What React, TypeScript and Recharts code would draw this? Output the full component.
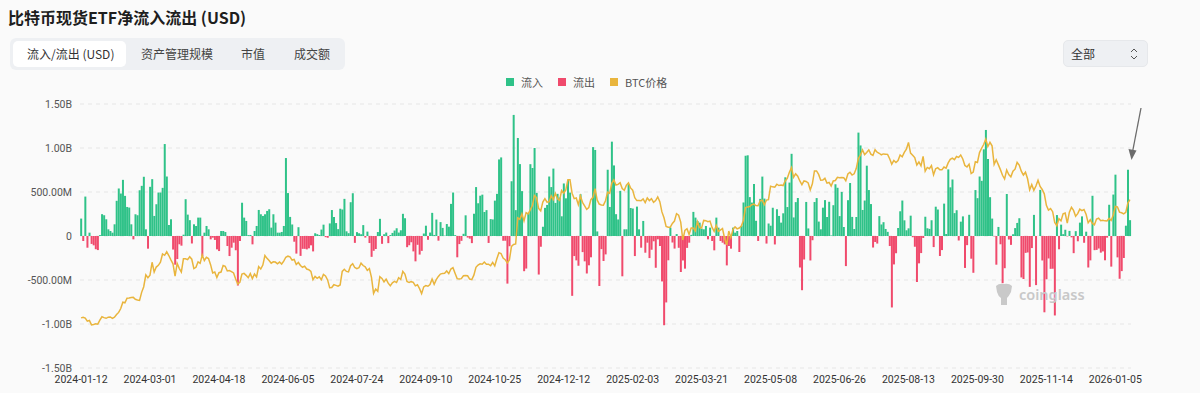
import React from "react";
import { Bar, CartesianGrid, ComposedChart, Line, XAxis, YAxis } from "recharts";

// US market holidays between the first and last day
const HOLIDAYS = [
  "2024-01-15", "2024-02-19", "2024-03-29", "2024-05-27", "2024-06-19", "2024-07-04",
  "2024-09-02", "2024-11-28", "2024-12-25", "2025-01-01", "2025-01-09", "2025-01-20",
  "2025-02-17", "2025-04-18", "2025-05-26", "2025-06-19", "2025-07-04", "2025-09-01",
  "2025-11-27", "2025-12-25", "2026-01-01",
];
const FIRST_DAY = "2024-01-12";
const LAST_DAY = "2026-01-14";

// daily net flow, USD millions
const flows = [
  198, -57, 448, -133, 38, -90, -106, -150, -160, 10,
  248, 236, 190, 76, 57, 38, 133, 400, 540, 483,
  638, 456, 330, 323, 133, -38, 247, 236, 520, 570,
  673, 76, -144, 559, 646, 228, 361, 494, 494, 547,
  1045, 676, 125, 190, -154, -326, -262, -94, -110, 15,
  418, 243, 180, -85, 133, 114, 209, 209, -228, 38,
  114, 76, -38, -19, -45, -152, -171, 57, 57, 45,
  -114, -228, -133, -76, -162, -563, -57, 378, 209, 171,
  10, 12, -95, 57, 114, 296, 247, 228, 247, 285,
  304, 95, 247, 152, 38, 38, 46, 114, 886, 488,
  217, 131, -65, -200, 100, -226, -146, -146, -152, -140,
  -106, -175, 31, 21, 11, 73, 129, -13, -20, 143,
  295, 216, 147, 78, 310, 301, 422, 53, 32, 384,
  486, -78, 44, 31, 20, 124, -18, 50, -80, -237,
  -168, -148, 45, 195, -89, 20, 39, -81, 11, 35,
  62, 88, 39, 65, 252, 202, -127, -105, -71, -175,
  -288, -100, -211, -169, 28, 117, -43, 39, 263, 12,
  187, -53, 158, 92, 4, 136, 106, 365, 494, 10,
  -242, -92, -55, 25, 235, -18, -30, -81, 253, 556,
  372, 458, 470, 273, 294, -79, 192, 188, 402, 479,
  870, 893, -54, -54, -541, -116, 621, 1376, 294, 1114,
  817, 510, -400, -370, 255, 816, 773, 1000, 490, -438,
  -122, 105, 320, 353, 676, 556, 766, 376, 479, 438,
  224, 597, 428, 637, 493, -680, -228, -277, -338, 475,
  -183, -288, -426, -333, -242, 1010, 978, 52, -568, -149,
  -284, -209, 753, 330, 1072, 802, 248, 188, 513, -458,
  76, 76, 588, 318, 312, -228, 334, 76, -133, 171,
  -190, -76, -251, -156, -60, -361, -38, -114, -516, -1014,
  -755, -276, 95, -74, -143, 22, -134, -409, -278, -371,
  -135, -76, 13, 274, 209, 171, 152, 84, 76, 114,
  -38, 95, -57, -163, 209, 95, -57, -76, -95, -334,
  -114, -144, 95, 38, 57, -182, 114, 381, 912, 917,
  442, 380, 591, 173, -56, 422, 675, 425, -86, 142,
  117, 321, -96, 304, 228, 152, 258, 667, 329, 607,
  934, 211, 385, 432, -358, -616, -267, 387, 86, -278,
  -48, 386, 431, 164, 76, 322, 408, 216, 389, 6,
  350, 588, 548, 226, 501, 102, -342, 407, 602, 217,
  80, 216, 1175, 1029, 296, 403, 799, 522, 363, -131,
  -68, -86, 226, 131, 157, 80, 47, -114, -812, -323,
  -196, 91, 281, 403, 178, 65, 87, 231, -14, -122,
  -523, -311, -194, -23, 219, 88, 81, 179, -126, 333,
  301, -227, -160, 368, 23, 757, 553, 642, 260, 293,
  -51, 163, 223, -363, -104, 241, -258, -418, 522, 430,
  676, 627, 985, 1205, 875, 441, 198, -4, -326, 103,
  -94, -536, -366, 477, -40, -101, 20, 90, 149, 202,
  -471, -488, -192, -187, -578, -137, 240, -558, 1, 524,
  -278, -867, -492, -255, -373, -372, -903, 238, -151, 129,
  21, 71, -4, 58, -15, -195, 55, -60, 152, 223,
  -77, 49, -358, -277, 457, -161, -158, -142, -189, -175,
  -276, -19, 355, -348, 471, 697, -243, -486, -399, -250,
  117, 753, 180,
];

// BTC price, thousand USD
const btcPrice = [
  42.8, 43.1, 42.7, 41.3, 41.6, 39.6, 39.8, 40.1, 39.9, 41.8,
  43.3, 42.9, 42.6, 43.1, 43.2, 42.6, 43.1, 44.3, 45.3, 47.1,
  50.0, 49.7, 51.8, 51.9, 52.1, 52.2, 51.3, 51.0, 50.8, 54.5,
  57.1, 62.5, 61.2, 62.4, 68.3, 63.8, 66.1, 66.9, 68.3, 72.1,
  71.5, 73.1, 71.4, 69.4, 67.6, 62.0, 67.8, 65.5, 63.8, 69.9,
  69.9, 69.5, 70.8, 69.7, 65.4, 66.0, 68.5, 67.8, 71.6, 69.1,
  70.6, 70.0, 67.2, 63.4, 63.8, 61.3, 63.5, 63.8, 66.8, 66.4,
  64.3, 64.5, 64.0, 63.4, 60.6, 58.3, 59.1, 62.9, 63.2, 62.3,
  61.2, 63.1, 60.8, 62.9, 61.6, 66.3, 65.2, 67.0, 71.4, 70.1,
  69.1, 67.9, 68.5, 68.4, 67.6, 68.4, 67.5, 68.8, 70.6, 71.1,
  70.8, 69.3, 69.6, 67.3, 68.2, 66.8, 66.0, 66.5, 65.2, 64.9,
  64.1, 60.3, 61.8, 60.9, 61.6, 60.3, 62.7, 62.0, 60.2, 56.6,
  56.7, 58.0, 57.7, 57.3, 57.9, 64.1, 65.1, 64.1, 63.9, 66.7,
  67.6, 65.9, 65.4, 65.8, 67.9, 66.8, 66.2, 64.6, 65.4, 61.4,
  54.0, 56.0, 55.0, 61.7, 60.9, 59.3, 60.6, 58.7, 57.5, 58.9,
  59.5, 59.0, 61.2, 60.4, 64.1, 62.9, 59.5, 59.0, 59.4, 59.1,
  57.5, 58.0, 56.2, 53.9, 57.0, 57.6, 57.3, 58.1, 60.6, 58.2,
  60.3, 61.8, 62.9, 63.2, 63.3, 64.3, 63.1, 65.2, 65.8, 63.3,
  60.8, 60.6, 60.8, 62.1, 62.2, 62.1, 60.6, 60.3, 62.4, 66.0,
  67.0, 67.6, 67.4, 68.4, 67.4, 67.4, 66.7, 68.2, 66.6, 69.9,
  72.7, 72.3, 70.2, 69.5, 68.0, 69.4, 75.6, 76.5, 76.7, 88.7,
  88.0, 90.5, 87.3, 91.1, 90.5, 92.3, 94.3, 98.9, 98.0, 93.0,
  91.9, 95.9, 97.5, 95.9, 96.0, 98.8, 97.0, 99.9, 97.4, 96.7,
  101.2, 100.0, 101.5, 106.1, 106.1, 100.0, 97.5, 97.8, 94.7, 98.7,
  95.8, 94.2, 92.6, 93.4, 97.0, 98.1, 102.1, 96.9, 95.0, 94.6,
  94.5, 96.5, 100.5, 99.9, 104.5, 106.1, 103.7, 104.0, 104.8, 102.1,
  101.3, 103.7, 104.7, 102.4, 101.4, 97.9, 96.6, 96.6, 96.5, 97.4,
  95.7, 97.8, 96.6, 97.5, 95.8, 96.6, 98.3, 96.1, 91.4, 88.7,
  84.7, 84.4, 84.4, 86.1, 87.2, 90.6, 89.9, 86.7, 78.5, 82.9,
  83.7, 81.1, 84.0, 84.0, 82.7, 86.9, 84.2, 84.1, 87.5, 87.4,
  86.9, 87.2, 84.3, 82.5, 85.2, 82.5, 83.1, 83.8, 79.2, 76.3,
  82.6, 79.6, 83.4, 84.5, 83.6, 84.0, 84.9, 87.5, 93.4, 93.7,
  93.9, 94.7, 95.0, 94.3, 94.2, 96.5, 96.8, 94.7, 96.8, 97.0,
  103.2, 102.9, 102.7, 104.1, 103.5, 103.7, 103.5, 105.6, 106.8, 109.6,
  111.7, 107.3, 108.9, 107.8, 105.6, 103.9, 105.6, 105.4, 104.7, 101.5,
  104.3, 110.2, 110.2, 108.6, 105.9, 106.0, 106.8, 104.6, 104.9, 103.3,
  105.6, 105.8, 107.3, 107.1, 107.2, 107.1, 105.7, 108.8, 109.6, 108.3,
  108.9, 111.3, 115.9, 117.5, 119.8, 117.7, 118.7, 119.9, 117.9, 117.3,
  119.9, 118.8, 118.3, 117.6, 118.0, 117.9, 117.8, 115.8, 113.3, 115.0,
  114.1, 115.0, 117.5, 116.7, 118.7, 120.2, 123.3, 118.4, 117.4, 116.3,
  112.9, 114.3, 112.5, 116.9, 110.1, 111.8, 111.2, 112.6, 108.4, 111.2,
  111.7, 110.7, 110.7, 112.0, 111.5, 113.9, 115.5, 116.1, 115.4, 116.8,
  116.4, 117.5, 115.7, 112.7, 112.0, 113.3, 109.0, 109.7, 114.4, 114.1,
  118.6, 120.6, 122.3, 124.8, 121.4, 123.3, 121.7, 113.2, 115.3, 113.1,
  110.8, 108.2, 106.5, 110.6, 108.5, 107.5, 110.1, 111.0, 114.1, 112.9,
  110.1, 108.3, 109.6, 106.6, 101.5, 103.9, 101.3, 103.3, 105.9, 103.1,
  101.7, 99.7, 94.4, 92.2, 92.9, 91.5, 86.6, 85.1, 88.3, 87.3,
  90.5, 90.9, 86.3, 91.3, 93.5, 92.1, 89.4, 90.6, 92.7, 92.0,
  92.5, 90.3, 86.4, 87.8, 86.1, 85.5, 88.1, 88.5, 87.4, 87.6,
  87.3, 87.2, 88.4, 87.5, 90.0, 93.9, 93.7, 91.3, 91.0, 90.5,
  91.2, 95.5, 97.0,
];

const flowTicks = [-1500, -1000, -500, 0, 500, 1000, 1500];
const tabs = ["流入/流出 (USD)", "资产管理规模", "市值", "成交额"];

const GREEN = "#2fc288";
const RED = "#f04a6c";
const GOLD = "#e9b53d";
const FONT = "Roboto, 'Noto Sans CJK SC', sans-serif";
const CJK = "'Noto Sans CJK SC', 'Noto Sans', sans-serif";

function tradingDays() {
  const out: string[] = [];
  const d = new Date(FIRST_DAY + "T00:00:00Z");
  const end = new Date(LAST_DAY + "T00:00:00Z");
  while (d <= end) {
    const s = d.toISOString().slice(0, 10);
    const wd = d.getUTCDay();
    if (wd !== 0 && wd !== 6 && !HOLIDAYS.includes(s)) out.push(s);
    d.setUTCDate(d.getUTCDate() + 1);
  }
  return out;
}

const fmtFlow = (v: number) => {
  if (v === 0) return "0";
  if (Math.abs(v) >= 1000) return (v / 1000).toFixed(2) + "B";
  return v.toFixed(2) + "M";
};

export default function App() {
  const dates = tradingDays();
  const n = Math.min(dates.length, flows.length, btcPrice.length);
  const data = [];
  for (let i = 0; i < n; i++) {
    data.push({
      date: dates[i],
      inflow: flows[i] > 0 ? flows[i] : 0,
      outflow: flows[i] < 0 ? flows[i] : 0,
      price: btcPrice[i],
    });
  }

  return (
    <div
      style={{
        position: "absolute",
        left: 0,
        top: 0,
        width: 1200,
        height: 393,
        background: "#fafafa",
        fontFamily: CJK,
        overflow: "hidden",
      }}
    >
      <div style={{ position: "absolute", left: 8, top: 5, fontSize: 16, fontWeight: 700, color: "#1e1e1e" }}>
        比特币现货ETF净流入流出 (USD)
      </div>

      <div
        style={{
          position: "absolute",
          left: 10,
          top: 38,
          width: 335,
          height: 32,
          background: "#eef0f3",
          borderRadius: 6,
        }}
      >
        <div
          style={{
            position: "absolute",
            left: 3,
            top: 3,
            width: 113,
            height: 26,
            background: "#fff",
            borderRadius: 5,
          }}
        />
        {tabs.map((t, i) => (
          <div
            key={t}
            style={{
              position: "absolute",
              left: [17, 131, 231, 284][i],
              top: 7,
              fontSize: 12,
              color: i === 0 ? "#333" : "#444",
              whiteSpace: "nowrap",
            }}
          >
            {t}
          </div>
        ))}
      </div>

      <div
        style={{
          position: "absolute",
          left: 1063,
          top: 40,
          width: 85,
          height: 27,
          background: "#eef0f3",
          border: "1px solid #e6e8eb",
          borderRadius: 5,
          boxSizing: "border-box",
        }}
      >
        <div style={{ position: "absolute", left: 7, top: 4, fontSize: 12, color: "#333" }}>全部</div>
        <svg style={{ position: "absolute", left: 66, top: 7 }} width={8} height={12}>
          <path d="M1 4 L4 1 L7 4 M1 8 L4 11 L7 8" fill="none" stroke="#555" strokeWidth={1} />
        </svg>
      </div>

      <div
        style={{
          position: "absolute",
          left: 506,
          top: 74,
          display: "flex",
          alignItems: "center",
          fontSize: 11,
          color: "#555",
          whiteSpace: "nowrap",
        }}
      >
        {[
          ["流入", GREEN],
          ["流出", RED],
          ["BTC价格", GOLD],
        ].map(([label, c]) => (
          <div key={label} style={{ display: "flex", alignItems: "center", marginRight: 15 }}>
            <span style={{ width: 8, height: 8, background: c, display: "inline-block", marginRight: 7 }} />
            <span>{label}</span>
          </div>
        ))}
      </div>

      <div style={{ position: "absolute", left: 0, top: 0 }}>
        <ComposedChart
          width={1200}
          height={393}
          data={data}
          margin={{ top: 104, right: 69, bottom: 0, left: 0 }}
          stackOffset="sign"
          barCategoryGap="8%"
        >
          <CartesianGrid yAxisId="flow" vertical={false} stroke="#e6e6e6" strokeDasharray="4 4" />
          <XAxis
            dataKey="date"
            interval={32}
            tickLine={false}
            axisLine={false}
            height={25}
            tickMargin={2}
            tick={{ fontSize: 10.5, fill: "#333", fontFamily: FONT }}
          />
          <YAxis
            yAxisId="flow"
            width={80}
            domain={[-1500, 1500]}
            ticks={flowTicks}
            tickFormatter={fmtFlow}
            tickLine={false}
            axisLine={false}
            tick={{ fontSize: 10.5, fill: "#555", fontFamily: FONT }}
          />
          <YAxis yAxisId="price" orientation="right" hide domain={[19.8, 140.9]} />
          <Bar yAxisId="flow" dataKey="inflow" stackId="f" fill={GREEN} isAnimationActive={false} />
          <Bar yAxisId="flow" dataKey="outflow" stackId="f" fill={RED} isAnimationActive={false} />
          <Line
            yAxisId="price"
            dataKey="price"
            stroke={GOLD}
            strokeWidth={1.5}
            dot={false}
            type="linear"
            isAnimationActive={false}
          />
        </ComposedChart>
      </div>

      <svg style={{ position: "absolute", left: 0, top: 0, pointerEvents: "none" }} width={1200} height={393}>
        <g fill="#c9c9c9">
          <path d="M996 286 Q999 283 1004 284 Q1009 283 1012 286 L1011 292 Q1009 296 1007 298 L1007 305 L1001 305 L1001 298 Q998 296 997 292 Z" />
        </g>
        <text x={1019} y={300} fontSize={14.5} fontWeight={600} fill="#c8c8c8" fontFamily="'Noto Sans', sans-serif">
          coinglass
        </text>
        <line x1={1141} y1={108} x2={1132.5} y2={152} stroke="#6b6b6b" strokeWidth={1.3} />
        <path d="M1128.5 149 L1131.5 160 L1136.5 150.5 Z" fill="#6b6b6b" />
      </svg>
    </div>
  );
}
